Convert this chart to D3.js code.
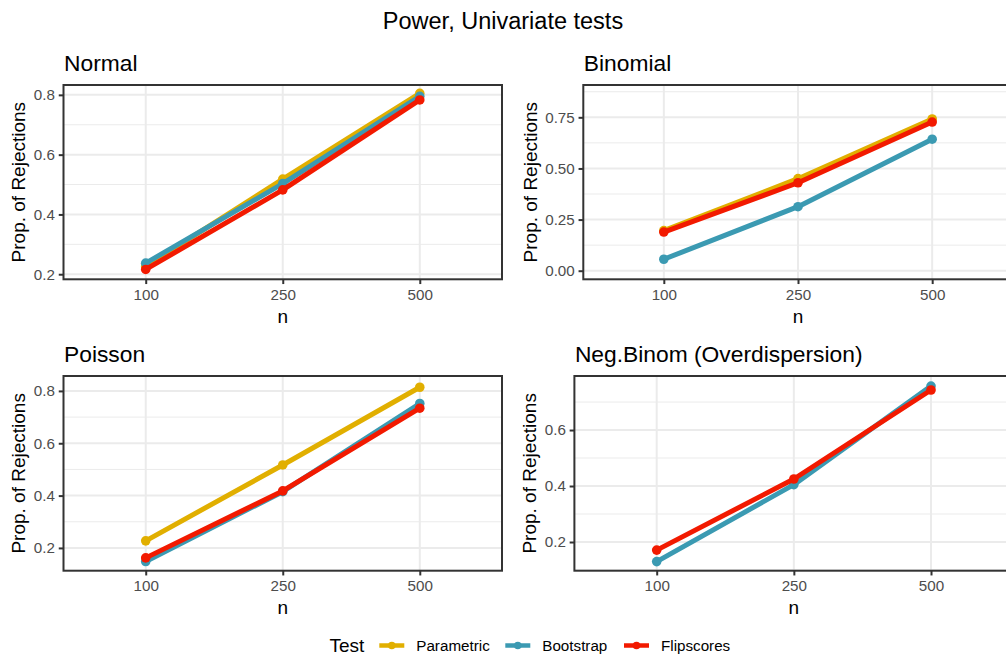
<!DOCTYPE html>
<html>
<head>
<meta charset="utf-8">
<script src="https://cdn.jsdelivr.net/npm/d3@7"></script>
<style>
  html, body { margin: 0; padding: 0; background: #ffffff; }
  svg { display: block; font-family: "Liberation Sans", Arial, Helvetica, sans-serif; }
</style>
</head>
<body>
<svg id="chart" width="1006" height="656"></svg>
<script>
// ---------------- data ----------------
const categories = ["100", "250", "500"];
const tests = ["Parametric", "Bootstrap", "Flipscores"];
const testColors = ["#E1AF00", "#3B9AB2", "#F21A00"];
const panelTitles = ["Normal", "Binomial", "Poisson", "Neg.Binom (Overdispersion)"];

const normalParametric = [0.226, 0.518, 0.805];
const normalBootstrap  = [0.237, 0.503, 0.795];
const normalFlipscores = [0.216, 0.482, 0.783];

const binomialParametric = [0.196, 0.450, 0.742];
const binomialBootstrap  = [0.056, 0.313, 0.643];
const binomialFlipscores = [0.189, 0.430, 0.727];

const poissonParametric = [0.227, 0.517, 0.814];
const poissonBootstrap  = [0.148, 0.415, 0.752];
const poissonFlipscores = [0.162, 0.418, 0.734];

const negbinParametric = [null, null, null];
const negbinBootstrap  = [0.130, 0.405, 0.757];
const negbinFlipscores = [0.171, 0.425, 0.743];

const normalTicks   = [0.2, 0.4, 0.6, 0.8];
const binomialTicks = [0.00, 0.25, 0.50, 0.75];
const poissonTicks  = [0.2, 0.4, 0.6, 0.8];
const negbinTicks   = [0.2, 0.4, 0.6];

const normalDomain   = [0.183, 0.833];
const binomialDomain = [-0.042, 0.908];
const poissonDomain  = [0.113, 0.857];
const negbinDomain   = [0.0975, 0.793];

const panelSeries = [
  [normalParametric, normalBootstrap, normalFlipscores],
  [binomialParametric, binomialBootstrap, binomialFlipscores],
  [poissonParametric, poissonBootstrap, poissonFlipscores],
  [negbinParametric, negbinBootstrap, negbinFlipscores]
];
const panelTicks = [normalTicks, binomialTicks, poissonTicks, negbinTicks];
const panelTickFormats = [".1f", ".2f", ".1f", ".1f"];
const panelDomains = [normalDomain, binomialDomain, poissonDomain, negbinDomain];

// ---------------- layout ----------------
const layout = [
  { x0: 63.5, x1: 502.0, y0: 85, y1: 279.3 },
  { x0: 583.3, x1: 1012.7, y0: 85, y1: 279.3 },
  { x0: 63.5, x1: 502.0, y0: 376, y1: 570.7 },
  { x0: 574.4, x1: 1013.3, y0: 376, y1: 570.7 }
];

const svg = d3.select("#chart");
const tickFont = 15.2, axisTitleFont = 19, panelTitleFont = 22.8;
const gridCol = "#EBEBEB", borderCol = "#333333", textCol = "#4D4D4D";
const tickLen = 4.75;

svg.append("text")
  .attr("x", 503).attr("y", 29)
  .attr("text-anchor", "middle")
  .attr("font-size", 23.5)
  .attr("fill", "#000")
  .text("Power, Univariate tests");

panelTitles.forEach((title, i) => {
  const L = layout[i];
  const g = svg.append("g");
  const x = d3.scalePoint().domain(categories).range([L.x0, L.x1]).padding(0.6);
  const y = d3.scaleLinear().domain(panelDomains[i]).range([L.y1, L.y0]);
  const ticks = panelTicks[i];
  const step = ticks[1] - ticks[0];
  const minors = [];
  for (let k = -1; k < ticks.length; k++) {
    const v = ticks[0] + step * (k + 0.5);
    const d = panelDomains[i];
    if (v >= d[0] && v <= d[1]) minors.push(v);
  }

  g.append("rect").attr("x", L.x0).attr("y", L.y0)
    .attr("width", L.x1 - L.x0).attr("height", L.y1 - L.y0).attr("fill", "#fff");

  g.selectAll(".minor").data(minors).enter().append("line")
    .attr("x1", L.x0).attr("x2", L.x1)
    .attr("y1", d => y(d)).attr("y2", d => y(d))
    .attr("stroke", gridCol).attr("stroke-width", 1);
  g.selectAll(".majy").data(ticks).enter().append("line")
    .attr("x1", L.x0).attr("x2", L.x1)
    .attr("y1", d => y(d)).attr("y2", d => y(d))
    .attr("stroke", gridCol).attr("stroke-width", 2);
  g.selectAll(".majx").data(categories).enter().append("line")
    .attr("x1", d => x(d)).attr("x2", d => x(d))
    .attr("y1", L.y0).attr("y2", L.y1)
    .attr("stroke", gridCol).attr("stroke-width", 2);

  const line = d3.line()
    .defined(d => d.v !== null)
    .x(d => x(d.c)).y(d => y(d.v));
  panelSeries[i].forEach((vals, s) => {
    const pts = categories.map((c, j) => ({ c: c, v: vals[j] }));
    g.append("path").datum(pts)
      .attr("d", line)
      .attr("fill", "none")
      .attr("stroke", testColors[s])
      .attr("stroke-width", 5)
      .attr("stroke-linejoin", "round");
    g.selectAll(".pt" + s).data(pts.filter(d => d.v !== null)).enter().append("circle")
      .attr("cx", d => x(d.c)).attr("cy", d => y(d.v))
      .attr("r", 4.8)
      .attr("fill", testColors[s]);
  });

  g.append("rect").attr("x", L.x0).attr("y", L.y0)
    .attr("width", L.x1 - L.x0).attr("height", L.y1 - L.y0)
    .attr("fill", "none").attr("stroke", borderCol).attr("stroke-width", 2);

  const yAxis = d3.axisLeft(y).tickValues(ticks)
    .tickFormat(d3.format(panelTickFormats[i]))
    .tickSize(tickLen).tickPadding(3.8);
  const ya = g.append("g").attr("transform", `translate(${L.x0},0)`).call(yAxis);
  ya.select(".domain").remove();
  ya.selectAll(".tick line").attr("stroke", borderCol).attr("stroke-width", 2);
  ya.selectAll(".tick text").attr("font-size", tickFont).attr("fill", textCol)
    .attr("font-family", "Liberation Sans, Arial, sans-serif");

  const xAxis = d3.axisBottom(x).tickSize(tickLen).tickPadding(5);
  const xa = g.append("g").attr("transform", `translate(0,${L.y1})`).call(xAxis);
  xa.select(".domain").remove();
  xa.selectAll(".tick line").attr("stroke", borderCol).attr("stroke-width", 2);
  xa.selectAll(".tick text").attr("font-size", tickFont).attr("fill", textCol)
    .attr("font-family", "Liberation Sans, Arial, sans-serif");

  let maxW = 0;
  ya.selectAll(".tick text").each(function () { maxW = Math.max(maxW, this.getComputedTextLength()); });
  const titleX = L.x0 - tickLen - 3.8 - maxW - 8.6;
  g.append("text")
    .attr("transform", `translate(${titleX},${(L.y0 + L.y1) / 2}) rotate(-90)`)
    .attr("text-anchor", "middle")
    .attr("font-size", axisTitleFont).attr("fill", "#000")
    .text("Prop. of Rejections");

  g.append("text")
    .attr("x", x("250"))
    .attr("y", L.y1 + 43.4)
    .attr("text-anchor", "middle")
    .attr("font-size", axisTitleFont).attr("fill", "#000")
    .text("n");

  g.append("text")
    .attr("x", L.x0 + 0.5).attr("y", L.y0 - 14)
    .attr("font-size", panelTitleFont).attr("fill", "#000")
    .text(title);
});

// ---------------- legend ----------------
const leg = svg.append("g");
const legY = 645.5;
leg.append("text").attr("x", 329.5).attr("y", legY + 6.5)
  .attr("font-size", axisTitleFont).attr("fill", "#000").text("Test");
const keyX = [379.3, 505.3, 624];
tests.forEach((t, s) => {
  leg.append("line")
    .attr("x1", keyX[s]).attr("x2", keyX[s] + 25)
    .attr("y1", legY).attr("y2", legY)
    .attr("stroke", testColors[s]).attr("stroke-width", 4.5);
  leg.append("circle").attr("cx", keyX[s] + 12.5).attr("cy", legY).attr("r", 3.8)
    .attr("fill", testColors[s]);
  leg.append("text").attr("x", keyX[s] + 37).attr("y", legY + 5.4)
    .attr("font-size", tickFont).attr("fill", "#000").text(t);
});
</script>
</body>
</html>
